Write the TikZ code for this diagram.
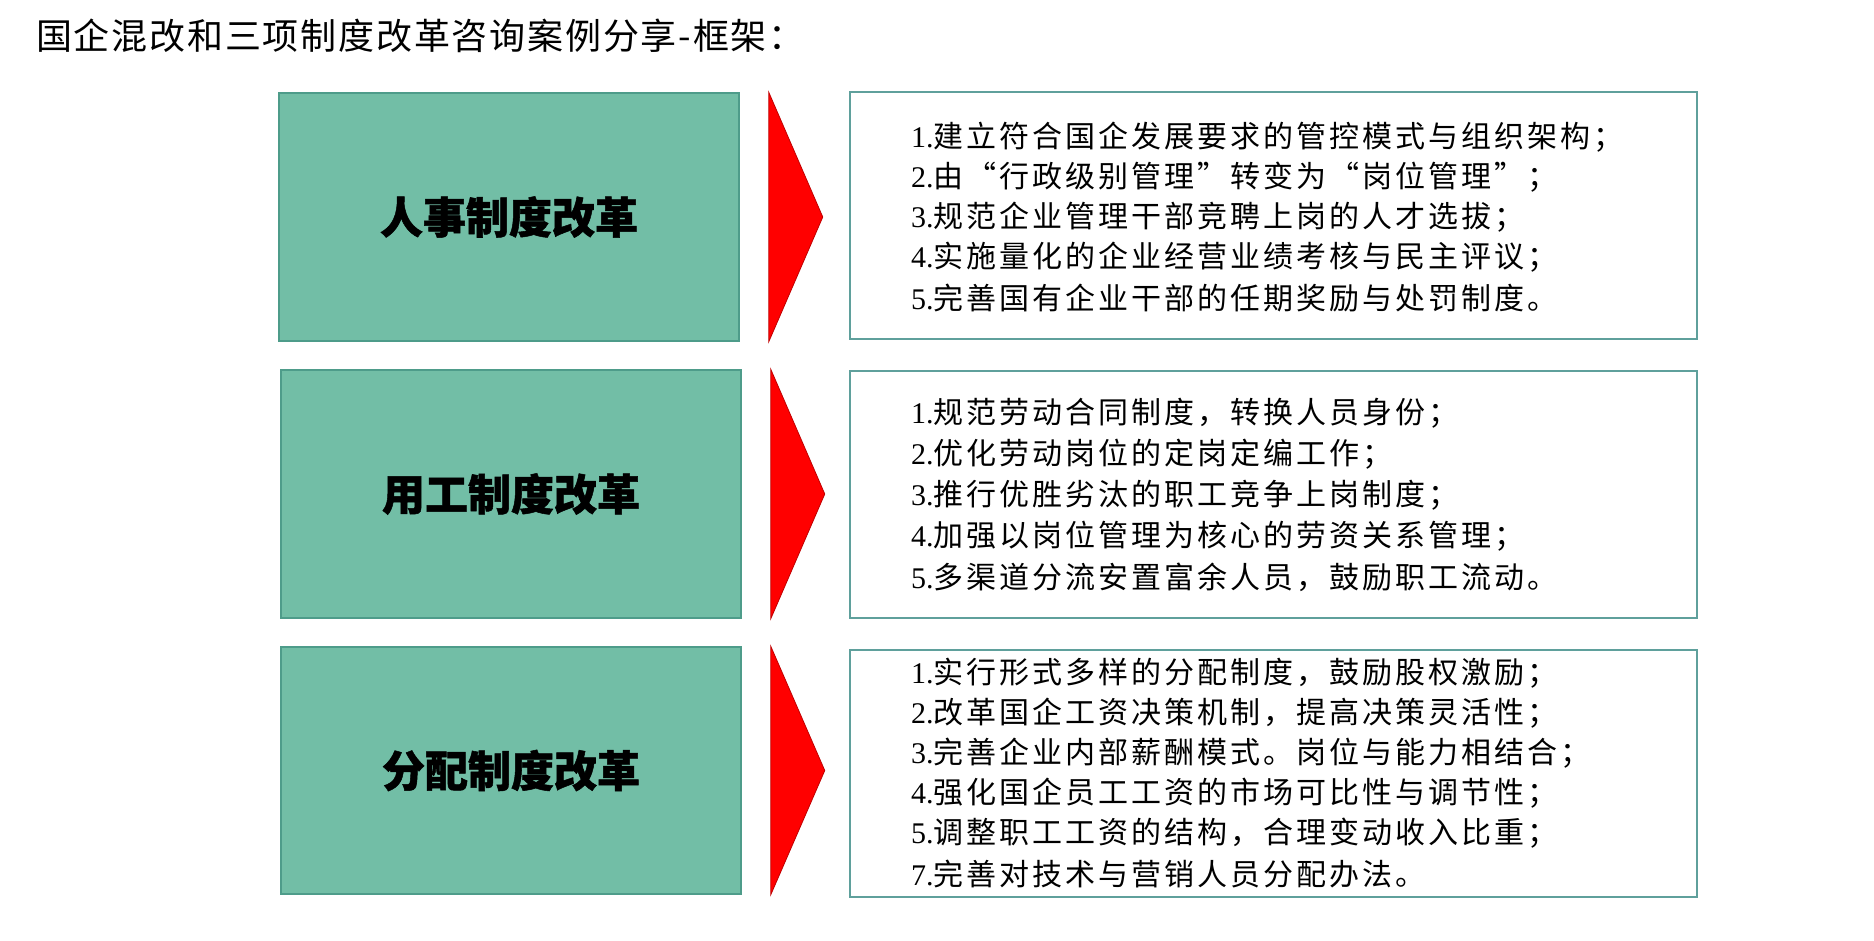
\documentclass[tikz,border=0pt]{standalone}
\usepackage{fontspec}
\newfontfamily\cjk{Noto Sans CJK SC}
\newfontfamily\cjktitle[LetterSpace=5]{Noto Sans CJK SC}
\newfontfamily\cjkheavy[BoldFeatures={FakeBold=1.2}]{Noto Sans CJK SC}
\newfontfamily\cjkbody[LetterSpace=10]{Noto Sans CJK SC}
\newfontfamily\numfont{Liberation Serif}
\definecolor{boxgreen}{HTML}{72BEA6}
\definecolor{boxgreenedge}{HTML}{4E9C8A}
\definecolor{listedge}{HTML}{5FA09C}
\definecolor{arrowred}{HTML}{FF0000}
\newcommand{\itm}[2]{{\numfont #1.}#2}
\tikzset{
  catbox/.style={fill=boxgreen, draw=boxgreenedge, line width=1.5pt,
    minimum width=460pt, minimum height=248pt, inner sep=0pt,
    font=\cjkheavy\bfseries\fontsize{43pt}{50pt}\selectfont},
  listbox/.style={fill=white, draw=listedge, line width=2pt,
    minimum width=847pt, minimum height=247pt, inner sep=0pt},
  listline/.style={anchor=west, inner sep=0pt,
    font=\cjkbody\fontsize{30pt}{36pt}\selectfont},
  chevron/.style={fill=arrowred, draw=arrowred!75!black, line width=0.8pt, line join=miter},
  titletext/.style={anchor=west, inner sep=0pt, font=\cjktitle\fontsize{36pt}{42pt}\selectfont}
}
\begin{document}
\begin{tikzpicture}[x=1pt,y=-1pt]
\useasboundingbox (0,0) rectangle (1874,940);
\fill[white] (0,0) rectangle (1874,940);

\node[titletext] (title) at (36,36) {国企混改和三项制度改革咨询案例分享-框架：};

% left category boxes
\node[catbox] (g1) at (509,217) {人事制度改革};
\node[catbox] (g2) at (511,494) {用工制度改革};
\node[catbox, minimum height=247pt] (g3) at (511,770.5) {分配制度改革};

% list boxes
\node[listbox] (r1) at (1273.5,215.5) {};
\node[listbox] (r2) at (1273.5,494.5) {};
\node[listbox] (r3) at (1273.5,773.5) {};

% red chevrons between boxes
\foreach \g in {g1,g2,g3}{
  \draw[chevron] ([xshift=29pt]\g.north east) -- ([xshift=83pt]\g.east) -- ([xshift=29pt]\g.south east) -- cycle;
}

% list texts, box 1
\node[listline] (a1) at (911,137) {\itm{1}{建立符合国企发展要求的管控模式与组织架构；}};
\node[listline] (a2) at (911,177) {\itm{2}{由“行政级别管理”转变为“岗位管理”；}};
\node[listline] (a3) at (911,217) {\itm{3}{规范企业管理干部竞聘上岗的人才选拔；}};
\node[listline] (a4) at (911,257) {\itm{4}{实施量化的企业经营业绩考核与民主评议；}};
\node[listline] (a5) at (911,298) {\itm{5}{完善国有企业干部的任期奖励与处罚制度。}};

% box 2
\node[listline] (b1) at (911,413) {\itm{1}{规范劳动合同制度，转换人员身份；}};
\node[listline] (b2) at (911,454) {\itm{2}{优化劳动岗位的定岗定编工作；}};
\node[listline] (b3) at (911,495) {\itm{3}{推行优胜劣汰的职工竞争上岗制度；}};
\node[listline] (b4) at (911,536) {\itm{4}{加强以岗位管理为核心的劳资关系管理；}};
\node[listline] (b5) at (911,577) {\itm{5}{多渠道分流安置富余人员，鼓励职工流动。}};

% box 3
\node[listline] (c1) at (911,673) {\itm{1}{实行形式多样的分配制度，鼓励股权激励；}};
\node[listline] (c2) at (911,713) {\itm{2}{改革国企工资决策机制，提高决策灵活性；}};
\node[listline] (c3) at (911,753) {\itm{3}{完善企业内部薪酬模式。岗位与能力相结合；}};
\node[listline] (c4) at (911,793) {\itm{4}{强化国企员工工资的市场可比性与调节性；}};
\node[listline] (c5) at (911,833) {\itm{5}{调整职工工资的结构，合理变动收入比重；}};
\node[listline] (c6) at (911,874) {\itm{7}{完善对技术与营销人员分配办法。}};
\end{tikzpicture}
\end{document}
